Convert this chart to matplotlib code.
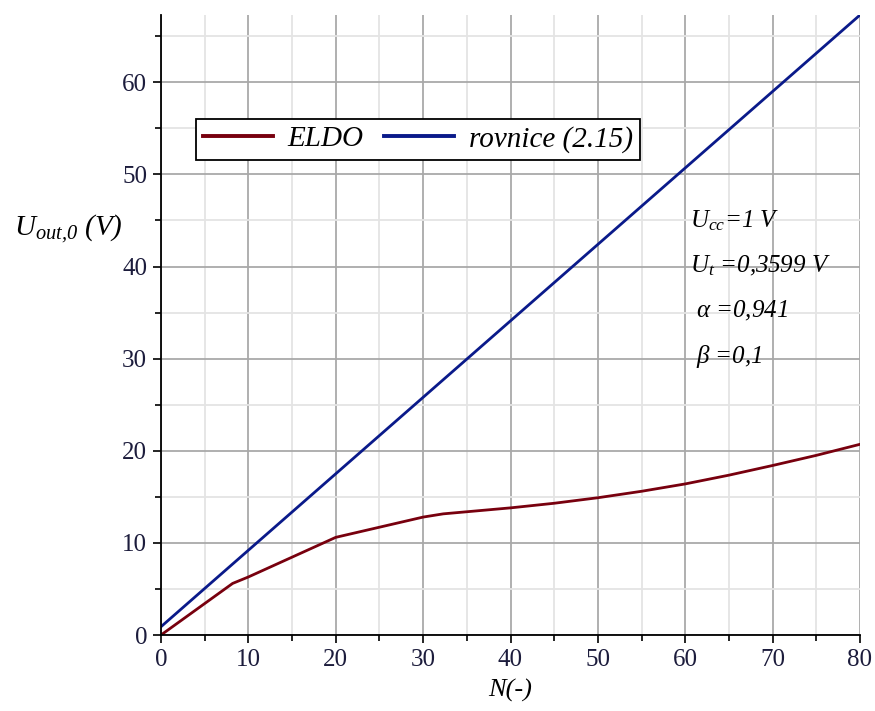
import matplotlib
matplotlib.use('Agg')
import matplotlib.pyplot as plt
from matplotlib.ticker import MultipleLocator

plt.rcParams['font.family'] = ['Liberation Serif', 'DejaVu Serif']
plt.rcParams['mathtext.fontset'] = 'custom'
plt.rcParams['mathtext.rm'] = 'Liberation Serif'
plt.rcParams['mathtext.it'] = 'Liberation Serif:italic'

# ELDO simulation result
eldo_n = [0, 8.2, 10, 20, 25, 30, 32.3, 40, 45, 50, 55, 60, 65, 70, 75, 80]
eldo_u = [0, 5.6, 6.3, 10.6, 11.7, 12.8, 13.15, 13.8, 14.3, 14.9, 15.6, 16.4, 17.35, 18.4, 19.5, 20.7]

# equation (2.15)
eq_n = [0, 10, 20, 30, 40, 50, 60, 70, 80]
eq_u = [0.9, 9.2, 17.5, 25.8, 34.1, 42.4, 50.7, 59.0, 67.3]

# plain parts stay in the italic text font, math only for symbols/subscripts
params = [r'$U_{cc}$=1 V',
          r'$U_t$ =0,3599 V',
          r' $\alpha$ =0,941',
          r' $\beta$ =0,1']

red = '#78000E'
blue = '#0A1A8A'
label_color = '#1c1c3c'

fig = plt.figure(figsize=(8.75, 7.11), dpi=100)
ax = fig.add_axes([161 / 875, 76 / 711, 699 / 875, 620 / 711])

ax.plot(eldo_n, eldo_u, color=red, lw=2.0, label='ELDO')
ax.plot(eq_n, eq_u, color=blue, lw=2.0, label='rovnice (2.15)')

ax.set_xlim(0, 80)
ax.set_ylim(0, 67.3)
ax.xaxis.set_major_locator(MultipleLocator(10))
ax.xaxis.set_minor_locator(MultipleLocator(5))
ax.yaxis.set_major_locator(MultipleLocator(10))
ax.yaxis.set_minor_locator(MultipleLocator(5))

ax.grid(which='major', color='#a9a9a9', lw=1.3)
ax.grid(which='minor', color='#e4e4e4', lw=1.3)
ax.set_axisbelow(True)

for side in ('top', 'right'):
    ax.spines[side].set_visible(False)
for side in ('left', 'bottom'):
    ax.spines[side].set_linewidth(1.3)
    ax.spines[side].set_color('black')

ax.tick_params(which='major', direction='out', length=6, width=1.2, pad=4,
               labelsize=18, labelcolor=label_color)
ax.tick_params(which='minor', direction='out', length=4, width=1.2)

ax.text(-0.211, 0.655, r'$U_{\mathdefault{out{,}0}}$ (V)', transform=ax.transAxes,
        fontsize=21, fontstyle='italic', color='black', ha='left', va='center')
ax.set_xlabel('N(-)', fontsize=19, fontstyle='italic', labelpad=6)

for i, t in enumerate(params):
    ax.text(0.757, 0.668 - i * 0.073, t, transform=ax.transAxes,
            fontsize=18, fontstyle='italic', ha='left', va='center')

leg = ax.legend(loc='upper left', bbox_to_anchor=(0.05, 0.833), ncol=2,
                fancybox=False, edgecolor='black', framealpha=1,
                borderaxespad=0, handlelength=2.4, columnspacing=0.7,
                handletextpad=0.5, borderpad=0.25, prop={'size': 21, 'style': 'italic'})
leg.get_frame().set_linewidth(1.3)
for line in leg.get_lines():
    line.set_linewidth(2.8)

fig.savefig('out.png', dpi=100)
